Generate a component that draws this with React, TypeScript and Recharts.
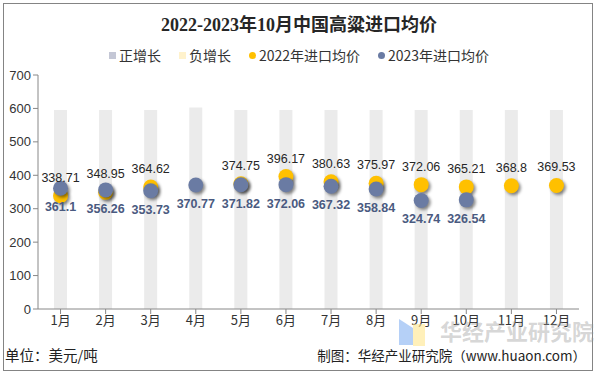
import React from "react";
import { ComposedChart, Bar, Line, XAxis, YAxis, LabelList } from "recharts";

const months = ["1月", "2月", "3月", "4月", "5月", "6月", "7月", "8月", "9月", "10月", "11月", "12月"];
const price2022: (number | null)[] = [338.71, 348.95, 364.62, null, 374.75, 396.17, 380.63, 375.97, 372.06, 365.21, 368.8, 369.53];
const price2023: (number | null)[] = [361.1, 356.26, 353.73, 370.77, 371.82, 372.06, 367.32, 358.84, 324.74, 326.54, null, null];
const posGrowth: (number | null)[] = [595, 595, 595, 603, 595, 595, 595, 595, 595, 595, 595, 595];
const negGrowth: (number | null)[] = [null, null, null, null, null, null, null, null, null, null, null, null];
const yTicks = [0, 100, 200, 300, 400, 500, 600, 700];

const data = months.map((m, i) => ({
  month: m,
  pos: posGrowth[i],
  neg: negGrowth[i],
  y22: price2022[i],
  y23: price2023[i],
}));

const C22 = "#FFC000";
const C23 = "#6A7BA3";

const makeDot = (color: string) => (props: any) => {
  const { cx, cy, value, index } = props;
  if (value == null || cx == null || cy == null) return <g key={index} />;
  return (
    <circle
      key={index}
      cx={cx}
      cy={cy}
      r={7.5}
      fill={color}
      style={{ filter: "drop-shadow(2px 2px 1.5px rgba(0,0,0,0.45))" }}
    />
  );
};

const legendItems = [
  { label: "正增长", color: "#C4C7D5", shape: "square" },
  { label: "负增长", color: "#FFF2CC", shape: "square" },
  { label: "2022年进口均价", color: C22, shape: "circle" },
  { label: "2023年进口均价", color: C23, shape: "circle" },
];

export default function App() {
  const font = "'Liberation Sans', Arial, sans-serif";
  return (
    <div style={{ position: "absolute", left: 0, top: 0, width: 598, height: 375, background: "#fff", overflow: "hidden" }}>
      <div style={{ position: "absolute", left: 3, top: 3, width: 590, height: 368, border: "1.5px solid #848484", boxSizing: "border-box" }} />
      <div
        style={{
          position: "absolute",
          left: 0,
          top: 10,
          width: 598,
          textAlign: "center",
          fontFamily: "'Liberation Serif', 'Noto Sans CJK SC', serif",
          fontWeight: "bold",
          fontSize: 18,
          color: "#262626",
        }}
      >
        2022-2023年10月中国高粱进口均价
      </div>
      <div
        style={{
          position: "absolute",
          left: 0,
          top: 45,
          width: 598,
          display: "flex",
          justifyContent: "center",
          alignItems: "center",
          fontFamily: "'Noto Sans CJK SC', sans-serif",
          fontSize: 14,
          color: "#333",
        }}
      >
        {legendItems.map((it) => (
          <div key={it.label} style={{ display: "flex", alignItems: "center", margin: "0 9px" }}>
            <span
              style={{
                display: "inline-block",
                width: 7,
                height: 7,
                background: it.color,
                borderRadius: it.shape === "circle" ? "50%" : 0,
                marginRight: 3,
              }}
            />
            <span>{it.label}</span>
          </div>
        ))}
      </div>
      <div style={{ position: "absolute", left: 0, top: 0 }}>
        <ComposedChart
          width={598}
          height={375}
          data={data}
          margin={{ top: 75, right: 19, bottom: 46, left: 8 }}
          barGap={-13}
        >
          <XAxis
            dataKey="month"
            height={20}
            tickLine={{ stroke: "#888" }}
            axisLine={{ stroke: "#888" }}
            tickSize={5}
            interval={0}
            tick={{ fontSize: 13, fill: "#333", fontFamily: "'Noto Sans CJK SC', sans-serif" }}
          />
          <YAxis
            width={30}
            domain={[0, 700]}
            ticks={yTicks}
            interval={0}
            tickSize={5}
            tickLine={{ stroke: "#888" }}
            axisLine={{ stroke: "#888" }}
            tick={{ fontSize: 13, fill: "#333", fontFamily: font }}
          />
          <Bar dataKey="pos" name="正增长" fill="#EBEBEB" barSize={13} isAnimationActive={false} />
          <Bar dataKey="neg" name="负增长" fill="#FFF2CC" barSize={13} isAnimationActive={false} />
          <Line
            dataKey="y22"
            name="2022年进口均价"
            stroke="none"
            dot={makeDot(C22)}
            activeDot={false}
            isAnimationActive={false}
          >
            <LabelList dataKey="y22" position="top" offset={14} style={{ fontSize: 12.5, fill: "#262626", fontFamily: font }} />
          </Line>
          <Line
            dataKey="y23"
            name="2023年进口均价"
            stroke="none"
            dot={makeDot(C23)}
            activeDot={false}
            isAnimationActive={false}
          >
            <LabelList dataKey="y23" position="bottom" offset={14} style={{ fontSize: 12.5, fill: "#4A5A80", fontWeight: "bold", fontFamily: font }} />
          </Line>
        </ComposedChart>
      </div>
      {/* watermark */}
      <div style={{ position: "absolute", left: 399, top: 319, width: 14, height: 26, background: "rgba(120,170,240,0.55)", clipPath: "polygon(0 0, 100% 35%, 100% 100%, 0 100%)" }} />
      <div style={{ position: "absolute", left: 413, top: 324, width: 12, height: 22, background: "rgba(255,230,140,0.6)" }} />
      <div style={{ position: "absolute", left: 440, top: 314, fontFamily: "'Noto Sans CJK SC', sans-serif", fontWeight: "bold", fontSize: 22, color: "rgba(150,150,150,0.4)" }}>
        华经产业研究院
      </div>
      <div style={{ position: "absolute", left: 0, top: 344, width: 590, display: "flex", justifyContent: "space-between", alignItems: "center", fontFamily: "'Noto Sans CJK SC', sans-serif", color: "#222" }}>
        <span style={{ marginLeft: 5, fontSize: 14.5 }}>单位：美元/吨</span>
        <span style={{ marginRight: 4, fontSize: 13.5 }}>制图：华经产业研究院（www.huaon.com）</span>
      </div>
    </div>
  );
}
